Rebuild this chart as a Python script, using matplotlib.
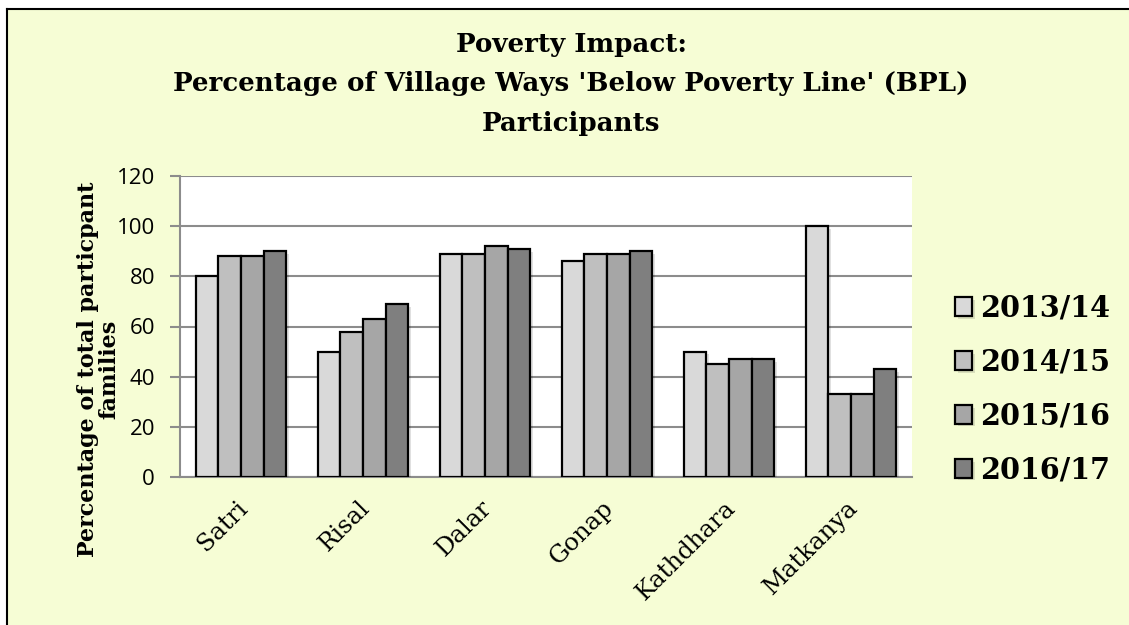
import matplotlib
matplotlib.use("Agg")
import matplotlib.pyplot as plt
import numpy as np
from matplotlib.patches import Rectangle
from matplotlib.lines import Line2D
import matplotlib.patheffects as pe
import matplotlib.transforms as mtransforms

villages = ["Satri", "Risal", "Dalar", "Gonap", "Kathdhara", "Matkanya"]
years = ["2013/14", "2014/15", "2015/16", "2016/17"]
v2013 = [80, 50, 89, 86, 50, 100]
v2014 = [88, 58, 89, 89, 45, 33]
v2015 = [88, 63, 92, 89, 47, 33]
v2016 = [90, 69, 91, 90, 47, 43]
series = [v2013, v2014, v2015, v2016]
colors = ["#d9d9d9", "#bfbfbf", "#a6a6a6", "#7f7f7f"]
yticks = [0, 20, 40, 60, 80, 100, 120]

W, H = 1129, 625
fig = plt.figure(figsize=(W/100, H/100), dpi=100)
fig.patch.set_facecolor("white")
bg = Rectangle((7/W, 0), 1 - 7/W, 1 - 9/H, transform=fig.transFigure,
               facecolor="#f6fdd5", edgecolor="none", zorder=-5)
fig.add_artist(bg)
fig.add_artist(Line2D([7/W, 7/W], [0, 1 - 9/H], color="black", lw=1.5,
                      transform=fig.transFigure, zorder=-4))
fig.add_artist(Line2D([7/W, 1], [1 - 9/H, 1 - 9/H], color="black", lw=1.5,
                      transform=fig.transFigure, zorder=-4))

ax = fig.add_axes([180/W, 1 - 477/H, (912 - 180)/W, (477 - 176)/H])
ax.set_zorder(2)
ax.set_facecolor("white")

x = np.arange(len(villages))
bw = 0.185
for i, (vals, c) in enumerate(zip(series, colors)):
    bars = ax.bar(x + (i - 1.5) * bw, vals, width=bw, color=c, edgecolor="black",
                  linewidth=1.6, label=years[i], zorder=3)
    for b in bars:
        b.set_path_effects([pe.SimplePatchShadow(offset=(2, -2), shadow_rgbFace="#000000", alpha=0.12),
                            pe.Normal()])

ax.set_xlim(-0.5, len(villages) - 0.5)
ax.set_ylim(0, 120)
ax.set_yticks(yticks)
ax.yaxis.grid(True, color="#8c8c8c", linewidth=1.5, zorder=0)
ax.set_axisbelow(True)
for s in ["top", "right"]:
    ax.spines[s].set_visible(False)
for s in ["left", "bottom"]:
    ax.spines[s].set_color("#8c8c8c")
    ax.spines[s].set_linewidth(1.5)
ax.tick_params(axis="y", direction="out", length=7, width=1.5, color="#8c8c8c",
               labelsize=16, pad=11)
for lab in ax.get_yticklabels():
    lab.set_family("Open Sans")
ax.tick_params(axis="x", length=0, pad=14)
ax.set_xticks(x)
ax.set_xticklabels(villages, rotation=45, ha="right", rotation_mode="anchor",
                   family="DejaVu Serif", fontsize=17.5)
shift = mtransforms.ScaledTranslation(-5/100, 0, fig.dpi_scale_trans)
for lab in ax.get_xticklabels():
    lab.set_transform(lab.get_transform() + shift)

fig.text(99/W, 1 - 369/H, "Percentage of total particpant\nfamilies",
         rotation=90, ha="center", va="center", family="DejaVu Serif",
         fontweight="bold", fontsize=16, linespacing=0.95)

fig.text(571/W, 1 - 84/H,
         "Poverty Impact:\nPercentage of Village Ways 'Below Poverty Line' (BPL)\nParticipants",
         ha="center", va="center", family="DejaVu Serif", fontweight="bold",
         fontsize=18.8, linespacing=1.72)

leg = ax.legend(loc="center left", bbox_to_anchor=(929/W, 1 - 389/H),
                bbox_transform=fig.transFigure, frameon=False,
                prop={"family": "DejaVu Serif", "weight": "bold", "size": 20.6},
                handlelength=0.62, handleheight=0.62, handletextpad=0.28,
                labelspacing=0.87)

fig.savefig("out.png", dpi=100, facecolor=fig.get_facecolor())
